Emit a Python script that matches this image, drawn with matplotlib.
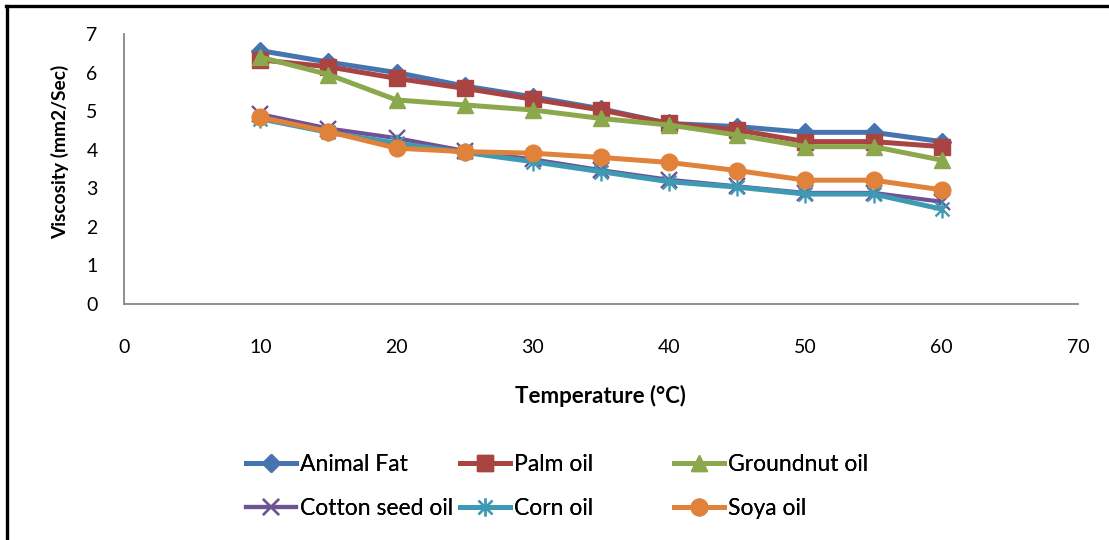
import matplotlib
matplotlib.use("Agg")
import matplotlib.pyplot as plt
from matplotlib.path import Path
from matplotlib.lines import Line2D

plt.rcParams["font.family"] = ["Lato", "DejaVu Sans"]

# --- data ---
temperature = [10, 15, 20, 25, 30, 35, 40, 45, 50, 55, 60]
animal_fat = [6.57, 6.27, 6.00, 5.65, 5.37, 5.06, 4.68, 4.60, 4.45, 4.45, 4.21]
palm_oil = [6.33, 6.15, 5.85, 5.59, 5.31, 5.03, 4.68, 4.51, 4.21, 4.21, 4.08]
groundnut_oil = [6.40, 5.95, 5.29, 5.16, 5.03, 4.81, 4.64, 4.38, 4.08, 4.08, 3.73]
cotton_seed_oil = [4.92, 4.55, 4.30, 3.97, 3.75, 3.47, 3.22, 3.05, 2.88, 2.88, 2.65]
corn_oil = [4.80, 4.45, 4.17, 3.93, 3.69, 3.43, 3.17, 3.03, 2.85, 2.85, 2.46]
soya_oil = [4.84, 4.47, 4.04, 3.95, 3.91, 3.80, 3.67, 3.46, 3.21, 3.21, 2.96]

labels = ["Animal Fat", "Palm oil", "Groundnut oil",
          "Cotton seed oil", "Corn oil", "Soya oil"]

# Excel-style asterisk: an x plus a vertical bar
star = Path([(-1, -1), (1, 1), (-1, 1), (1, -1), (0, -1.3), (0, 1.3)],
            [Path.MOVETO, Path.LINETO] * 3)

styles = [
    dict(color="#4674B0", marker="D", ms=9, lw=3.6),
    dict(color="#A94442", marker="s", ms=11, lw=3.6),
    dict(color="#8BA84C", marker="^", ms=12, lw=3.6),
    dict(color="#6E5293", marker="x", ms=11, lw=3.0, mew=1.7),
    dict(color="#3E9AB4", marker=star, ms=13, lw=3.6, mew=1.7),
    dict(color="#E0823A", marker="o", ms=12, lw=3.6),
]
series = [animal_fat, palm_oil, groundnut_oil, cotton_seed_oil, corn_oil, soya_oil]

fig = plt.figure(figsize=(11.09, 5.40), dpi=100)
ax = fig.add_axes([124 / 1109, 1 - 304 / 540, 954 / 1109, 270 / 540])

handles = []
for vals, lab, st in zip(series, labels, styles):
    (h,) = ax.plot(temperature, vals, color=st["color"], lw=st["lw"],
                   marker=st["marker"], markersize=st["ms"],
                   markeredgewidth=st.get("mew", 1.0),
                   markeredgecolor=st["color"], markerfacecolor=st["color"],
                   label=lab, solid_joinstyle="round")
    handles.append(h)

ax.set_xlim(0, 70)
ax.set_ylim(0, 7)
ax.set_xticks(range(0, 71, 10))
ax.set_yticks(range(0, 8))
for side in ["top", "right"]:
    ax.spines[side].set_visible(False)
for side in ["left", "bottom"]:
    ax.spines[side].set_color("#868686")
    ax.spines[side].set_linewidth(1.3)
ax.tick_params(axis="both", length=0, labelsize=14)
ax.tick_params(axis="x", pad=25)
ax.tick_params(axis="y", pad=19)

ax.set_xlabel("Temperature (°C)", fontsize=16, fontweight="bold")
ax.set_ylabel("Viscosity (mm2/Sec)", fontsize=13.8, fontweight="bold")
ax.xaxis.set_label_coords(0.499, -0.30)
ax.yaxis.set_label_coords(-0.058, 0.565)

# legend: fixed-width columns like Excel, one legend per column
col_x = [246, 460, 674]
for c in range(3):
    hs = [handles[c], handles[c + 3]]
    ls = [labels[c], labels[c + 3]]
    leg = fig.legend(hs, ls, loc="upper left",
                     bbox_to_anchor=(col_x[c] / 1109, 1 - 454 / 540),
                     frameon=False, fontsize=16.5, handlelength=2.2,
                     handletextpad=0.17, labelspacing=1.0,
                     borderpad=0, borderaxespad=0)
    fig.add_artist(leg)

# chart frame (left and top edges visible)
fig.add_artist(Line2D([7 / 1109, 7 / 1109], [0, 1 - 6 / 540],
                      transform=fig.transFigure, color="black", lw=2.4))
fig.add_artist(Line2D([6 / 1109, 1], [1 - 6 / 540, 1 - 6 / 540],
                      transform=fig.transFigure, color="black", lw=2.4))

fig.savefig("out.png", dpi=100)
